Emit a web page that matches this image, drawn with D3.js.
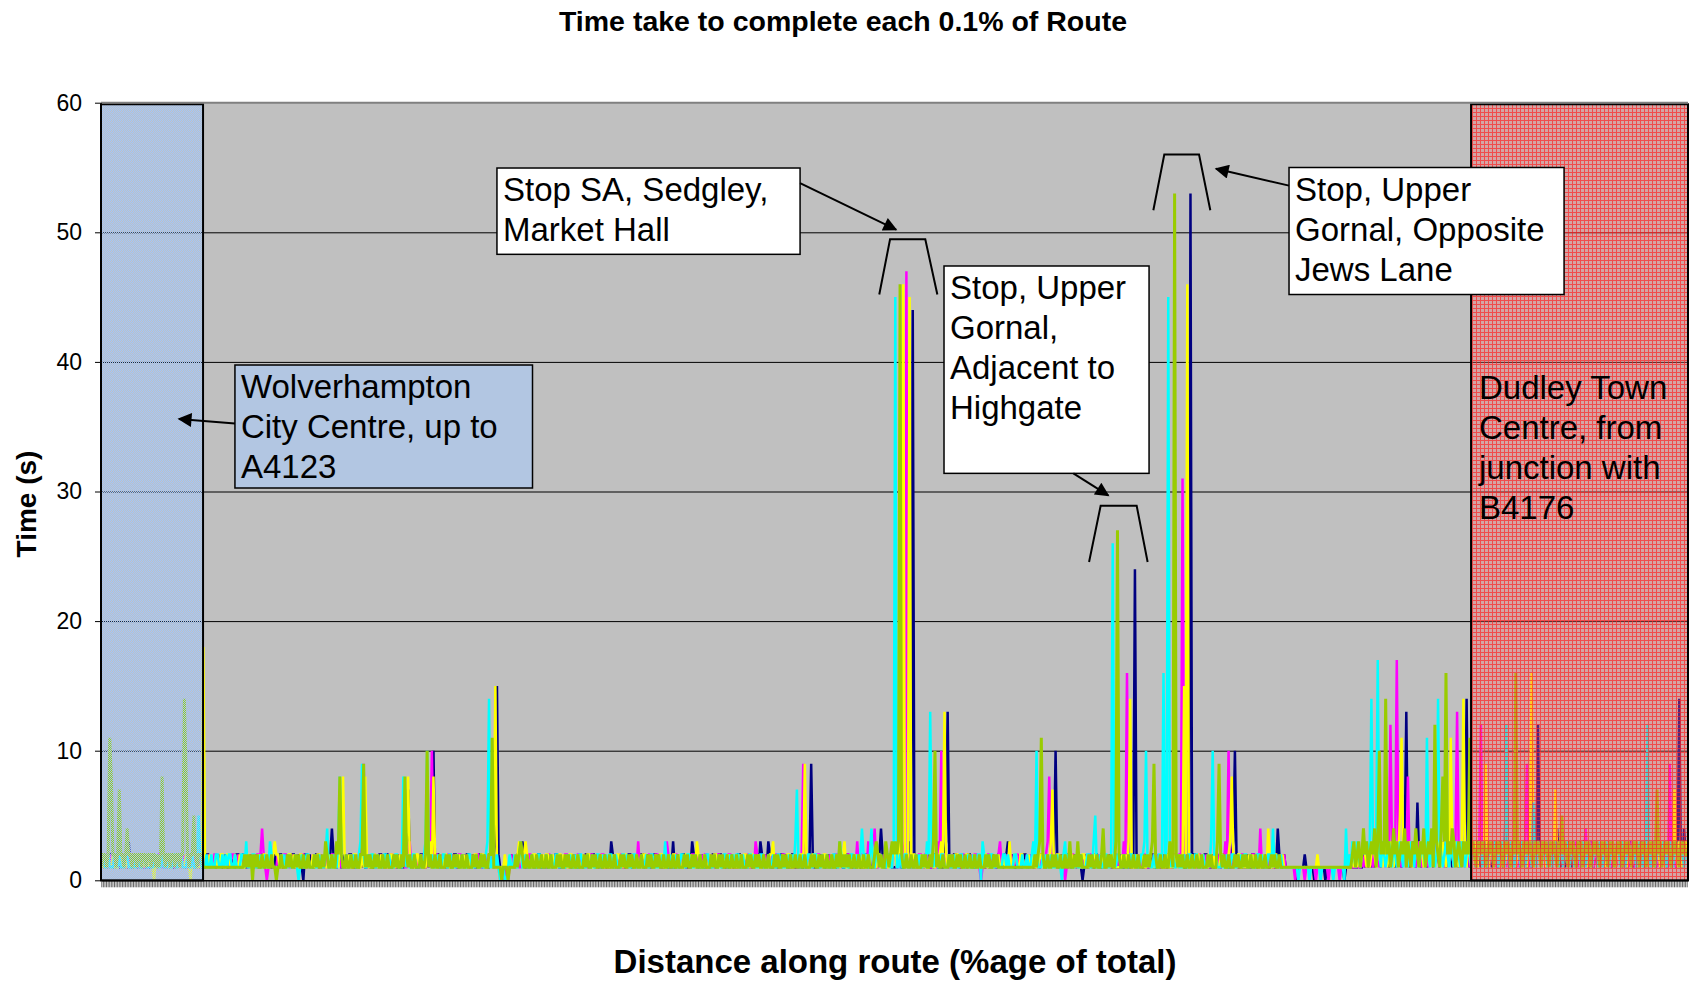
<!DOCTYPE html>
<html>
<head>
<meta charset="utf-8">
<script src="https://cdn.jsdelivr.net/npm/d3@7"></script>
<style>
  body { margin: 0; background: #fff; }
  svg { display: block; }
  text { font-family: "Liberation Sans", Arial, sans-serif; fill: #000; }
</style>
</head>
<body>
<div id="chart"></div>
<script>
// Categories: each 0.1% of the route
var categories = d3.range(1, 1001).map(d => (d / 10).toFixed(1));
var yTicks = [0, 10, 20, 30, 40, 50, 60];

// Seconds taken for each 0.1% of route, one array per journey
var run1 = [
1,1,2,1,1,2,2,1,1,2, 2,1,1,1,2,1,1,3,1,1, 1,2,2,1,1,1,2,1,1,2, 1,1,2,2,1,1,2,1,2,1, 2,2,1,1,2,1,1,1,2,2,
1,2,1,1,1,2,2,1,1,1, 2,1,1,2,1,1,2,2,1,1, 1,1,1,2,1,2,1,1,2,1, 1,1,2,1,1,2,2,1,1,2, 2,1,1,1,2,1,1,2,1,1,
1,2,2,1,1,1,2,1,1,2, 1,1,2,2,1,1,2,1,2,1, 2,2,1,1,2,1,1,0,2,2, 1,2,1,1,1,2,2,1,1,1, 1,2,2,1,2,4,2,1,1,2,
2,1,1,2,1,1,2,2,1,1, 1,1,1,2,1,2,1,1,2,1, 1,1,2,1,1,2,2,1,1,2, 2,1,1,1,2,1,1,2,1,1, 1,2,3,7,2,1,1,2,1,1,
1,2,2,1,1,2,1,2,3,10, 1,2,2,1,1,1,2,1,1,2, 1,1,2,2,1,1,2,1,2,1, 2,2,1,1,2,1,1,1,2,2, 1,1,2,1,1,2,2,2,3,15,
2,1,0,1,0,1,1,1,2,1, 1,1,2,2,2,3,2,1,1,1, 1,2,1,1,1,2,2,1,1,1, 2,1,1,2,1,1,2,2,1,1, 1,1,1,2,1,2,1,1,2,1,
1,1,2,1,1,2,2,1,1,2, 2,1,1,1,2,1,1,2,1,1, 1,3,2,1,1,1,2,1,1,2, 1,1,2,2,1,1,2,1,2,1, 2,2,1,1,2,1,1,1,2,2,
1,2,1,1,1,2,2,1,1,1, 3,1,1,2,1,1,2,2,1,1, 1,1,3,2,1,2,1,1,2,1, 1,1,2,1,1,2,2,1,1,2, 2,1,1,1,2,1,1,2,1,1,
1,2,2,1,1,1,2,1,1,2, 1,1,2,2,1,3,2,1,2,1, 3,2,1,1,2,1,1,1,2,2, 1,2,1,1,1,2,2,1,1,1, 2,1,1,2,1,1,2,9,2,1,
1,1,1,2,1,2,1,1,2,1, 1,1,2,1,1,2,2,1,1,2, 2,1,1,1,2,1,1,2,1,1, 1,2,2,1,1,1,2,1,1,2, 2,4,2,1,1,2,1,2,1,1,
1,1,2,2,1,1,2,1,2,3, 2,44,2,1,1,2,1,1,1,2, 1,2,1,1,1,2,2,1,1,1, 1,2,3,13,2,1,1,2,2,1, 2,1,1,2,1,1,2,2,1,1,
1,1,1,2,1,2,1,1,2,1, 1,1,2,1,1,2,2,1,1,2, 2,3,2,1,2,1,1,2,1,1, 1,2,2,1,1,1,2,1,1,2, 1,1,2,2,1,1,2,1,2,1,
2,10,2,1,1,2,1,1,1,2, 2,1,1,2,1,1,2,1,0,1, 2,1,1,2,1,1,2,2,1,1, 1,1,1,2,1,2,1,1,2,1, 1,1,2,1,1,2,2,1,1,2,
2,24,2,1,1,2,1,1,2,1, 1,2,2,1,1,1,2,1,1,2, 1,1,2,2,1,1,2,1,2,1, 2,2,1,1,2,1,53,1,2,2, 1,2,1,1,1,2,2,1,1,1,
2,1,1,2,1,1,2,2,1,1, 1,1,2,3,10,2,1,1,2,1, 1,1,2,1,1,2,2,1,1,2, 2,1,1,1,2,1,1,2,1,1, 1,4,2,1,1,2,1,1,1,1,
1,1,1,0,1,1,1,1,2,1, 1,1,1,1,0,1,1,1,1,1, 1,0,1,1,1,1,1,1,1,1, 1,1,1,0,1,1,1,1,1,1, 1,1,2,1,1,2,1,2,1,2,
1,2,1,2,3,2,1,2,2,3, 2,1,2,3,2,1,2,3,2,1, 2,3,13,2,1,2,3,2,1,6, 2,1,2,3,2,1,2,3,2,1, 2,3,2,1,2,3,2,1,2,3,
2,1,2,3,2,1,2,3,2,2, 14,2,1,2,3,2,1,3,2,1, 2,3,2,1,3,2,1,2,3,2, 1,3,2,1,2,9,2,1,2,3, 2,1,3,2,1,2,3,2,1,3,
2,1,3,2,2,12,2,1,3,2, 1,2,3,2,1,3,2,4,2,1, 3,2,1,2,3,2,1,3,2,1, 2,3,1,2,3,3,2,1,3,2, 1,2,3,2,1,3,2,1,2,3,
2,1,3,2,1,2,3,2,1,3, 2,1,2,3,2,1,3,2,1,2, 3,2,1,3,2,1,2,3,2,1, 3,2,1,2,3,2,1,3,2,1, 2,3,1,2,14,2,1,4,2,2
];

var run2 = [
1,1,2,2,1,1,2,1,2,1, 2,2,1,1,2,1,1,1,2,2, 1,2,1,1,1,2,2,1,1,1, 2,1,1,2,1,1,2,2,1,1, 1,1,1,2,1,2,1,1,2,1,
1,1,2,1,1,2,2,1,1,2, 2,1,1,1,2,1,1,2,1,1, 1,2,2,1,1,1,2,1,1,2, 1,1,2,2,1,1,2,1,2,1, 2,2,1,1,2,1,1,1,2,2,
2,4,2,1,0,1,1,2,1,1, 1,2,1,1,1,2,2,1,1,1, 2,1,1,2,1,1,2,2,1,1, 1,1,1,2,1,2,1,1,2,1, 1,1,2,1,1,2,2,1,1,2,
2,1,1,1,2,1,1,2,1,1, 1,1,2,1,3,9,2,1,1,2, 1,2,2,1,1,1,2,1,1,2, 1,1,2,2,1,1,2,1,2,1, 2,1,1,2,3,1,1,2,1,2,
1,1,2,1,1,2,1,3,10,2, 2,2,1,1,2,1,1,1,2,2, 1,2,1,1,1,2,2,1,1,1, 2,1,1,2,1,1,2,2,1,1, 1,1,1,2,1,2,1,1,2,1,
1,0,1,0,0,1,0,1,2,1, 1,1,2,1,1,2,2,1,1,2, 2,1,1,1,2,1,1,2,1,1, 1,2,2,1,1,1,2,1,1,2, 1,1,2,2,1,1,2,1,2,1,
2,2,1,1,2,1,1,1,2,2, 1,2,1,1,1,2,2,1,1,1, 2,1,1,2,1,1,2,2,1,1, 1,1,1,2,1,2,1,1,3,1, 1,1,2,1,1,2,2,1,1,2,
2,1,1,1,2,1,3,2,1,1, 1,2,2,1,1,1,2,1,1,2, 1,1,2,2,1,1,2,1,2,1, 2,2,1,1,2,1,1,1,2,2, 1,2,1,1,1,2,2,1,1,1,
2,1,1,2,1,1,2,2,1,1, 1,1,3,2,1,2,1,1,2,1, 1,1,2,1,1,2,2,1,1,2, 2,1,1,1,2,1,1,2,1,1, 1,2,9,2,1,1,2,1,1,2,
1,2,2,1,1,1,2,1,1,2, 1,1,2,2,1,1,2,1,2,1, 2,2,1,1,2,1,3,1,2,2, 1,2,1,3,1,2,2,4,1,1, 2,1,1,2,1,1,2,2,1,3,
2,1,1,2,1,2,3,47,2,1, 1,1,2,1,1,2,2,1,1,2, 2,1,1,1,2,1,1,3,2,10, 1,2,2,1,1,1,2,1,1,2, 1,1,2,2,1,1,2,1,2,1,
2,2,1,1,0,1,1,1,2,2, 1,2,1,1,1,2,3,1,1,1, 2,1,1,2,1,1,2,2,1,1, 1,1,1,2,1,2,1,1,2,1, 1,1,2,1,1,2,3,8,1,2,
2,1,1,1,2,1,1,0,1,1, 1,2,2,1,1,1,2,1,1,2, 1,1,2,2,1,1,2,1,2,1, 2,2,1,1,2,1,1,1,2,2, 1,2,1,1,3,2,16,1,1,1,
2,1,1,2,1,1,2,2,1,1, 1,1,1,2,1,2,1,1,2,1, 1,1,2,1,1,2,2,1,1,2, 2,31,2,1,2,1,1,2,1,1, 1,2,2,1,1,1,2,1,1,2,
1,1,2,2,1,1,2,1,3,2, 10,2,1,1,2,1,1,1,2,2, 1,2,1,1,1,2,2,1,1,1, 4,1,1,2,1,1,2,2,1,1, 1,1,1,2,1,2,1,1,1,1,
1,1,0,1,1,1,1,1,0,1, 1,1,1,1,1,0,1,1,1,1, 1,1,1,0,1,1,1,1,1,1, 0,1,1,1,1,1,1,2,1,1, 1,2,1,1,2,1,2,1,2,1,
2,1,2,3,2,1,2,3,2,1, 2,3,12,2,3,2,17,3,2,1, 3,2,1,8,2,1,3,2,1,2, 3,2,1,2,3,2,1,3,2,1, 2,3,2,1,3,2,1,2,3,2,
5,2,1,3,13,2,1,3,2,1, 2,3,1,2,3,2,1,2,3,12, 2,1,3,2,1,2,3,2,1,3, 2,1,2,3,2,1,3,2,1,2, 3,2,1,3,2,1,2,3,9,2,
1,3,2,1,2,3,2,1,3,2, 1,2,3,2,1,3,2,1,2,3, 2,1,3,2,1,2,3,2,1,3, 2,1,2,3,2,4,2,1,3,2, 1,2,3,2,1,3,2,1,2,3,
2,1,3,2,1,2,3,2,1,2, 3,2,1,2,3,2,1,3,2,1, 2,3,2,1,3,2,1,2,3,2, 1,3,2,1,2,3,2,1,9,2, 3,2,1,2,3,2,1,2,3,2
];

var run3 = [
2,1,1,1,2,1,1,2,1,1, 1,2,2,1,1,1,2,1,1,2, 1,1,2,2,1,1,2,1,2,1, 2,2,1,0,2,1,1,1,2,2, 1,2,1,1,1,2,2,1,1,1,
2,1,1,2,1,1,0,2,1,1, 1,1,1,2,18,2,1,1,2,1, 1,1,2,1,1,2,2,1,1,2, 2,1,1,1,2,1,1,2,1,1, 1,2,2,1,1,1,2,1,1,2,
1,1,2,2,1,1,2,1,2,3, 2,2,1,1,2,1,1,1,2,2, 1,2,1,1,1,2,2,1,1,1, 2,1,1,2,1,1,2,2,1,1, 1,1,1,2,1,2,1,1,2,1,
3,2,8,2,1,1,2,1,1,2, 2,1,1,1,2,1,8,2,1,1, 1,2,2,1,1,1,2,1,1,2, 1,1,2,2,1,1,2,1,2,1, 2,2,3,8,2,1,1,1,2,2,
1,2,1,1,1,2,2,3,1,8, 2,1,1,2,1,1,2,2,1,1, 1,1,1,2,1,2,1,1,2,1, 1,1,2,1,1,2,2,1,1,2, 2,1,1,1,2,1,1,2,15,1,
1,0,1,1,2,1,1,2,1,1, 1,1,2,3,2,1,2,3,2,1, 1,1,2,2,1,1,2,1,2,1, 2,2,1,1,2,1,1,1,2,2, 1,2,1,1,1,2,2,1,1,1,
2,1,1,2,1,1,2,2,1,1, 1,1,1,2,1,2,1,1,2,1, 1,1,2,1,1,2,2,1,1,2, 2,1,1,1,2,1,1,2,1,1, 1,2,2,1,1,1,2,1,1,2,
1,1,2,2,1,1,2,1,2,1, 2,2,1,1,2,1,1,1,2,2, 1,2,1,1,1,3,2,1,1,1, 2,1,1,2,1,1,2,2,1,1, 1,1,1,2,1,2,1,1,2,1,
1,1,2,1,1,2,2,1,1,2, 2,1,1,1,2,1,1,2,1,1, 1,2,2,3,1,1,2,1,1,2, 1,1,2,2,1,1,2,1,2,1, 2,2,1,9,2,1,1,1,2,2,
1,2,1,1,1,2,2,1,1,1, 2,1,1,2,1,1,2,2,3,1, 1,1,1,2,1,2,1,1,2,1, 1,1,2,1,1,3,2,1,1,2, 2,1,1,1,2,1,1,2,1,3,
2,1,2,3,2,46,2,1,2,45, 1,2,2,1,1,1,2,1,1,2, 1,1,2,2,1,1,2,1,2,3, 2,13,2,1,2,1,1,1,2,2, 1,2,1,1,1,2,2,1,1,1,
2,1,1,2,1,1,2,2,1,1, 1,1,1,2,1,2,1,1,2,1, 1,1,3,1,1,2,2,1,1,2, 2,1,1,1,2,1,1,2,1,1, 1,2,2,1,1,1,2,1,3,7,
1,1,2,2,1,1,2,1,2,1, 2,2,1,1,2,1,1,1,2,2, 1,2,1,1,1,2,2,1,1,1, 2,1,1,2,1,1,2,2,1,1, 1,1,1,2,1,2,1,3,14,1,
1,1,2,1,1,2,2,1,1,2, 2,1,1,1,2,1,1,2,1,1, 1,2,2,1,1,1,2,1,1,2, 1,1,15,2,46,1,1,2,1,1, 2,2,1,1,2,1,1,1,2,2,
1,2,1,1,1,2,2,1,1,1, 2,3,8,2,1,1,2,2,1,1, 1,1,1,2,1,2,1,1,2,1, 1,1,2,1,1,4,2,1,1,2, 2,1,1,1,2,1,1,1,1,1,
1,1,1,1,1,1,1,1,1,1, 1,1,1,1,1,1,2,1,1,1, 1,1,1,1,1,1,1,1,1,1, 1,1,1,1,1,1,1,1,2,1, 2,1,2,1,2,3,2,1,2,1,
2,3,2,1,2,3,2,1,3,2, 1,2,3,2,1,2,3,2,5,11, 2,3,2,1,3,2,1,2,3,2, 1,3,2,1,2,3,2,1,3,2, 1,2,3,2,1,3,2,1,2,3,
11,2,1,3,2,1,2,3,14,2, 1,3,2,1,2,3,2,1,3,2, 1,2,9,2,1,3,2,1,2,3, 2,1,3,2,1,2,3,2,1,3, 2,1,2,3,2,1,3,2,1,2,
3,16,2,1,2,3,2,1,3,2, 1,2,3,2,1,2,7,2,1,3, 2,1,2,3,2,1,3,2,1,2, 3,2,1,2,3,2,1,3,2,1, 2,3,2,1,2,3,2,1,3,2,
1,2,3,2,1,3,2,1,2,3, 2,1,3,2,1,2,3,2,1,3, 2,1,2,3,2,1,3,2,1,2, 3,2,1,3,2,1,2,3,2,1, 2,7,2,1,3,2,1,2,3,2
];

var run4 = [
2,2,1,1,2,1,1,1,2,2, 1,2,1,1,1,2,2,1,1,1, 2,1,1,2,1,1,2,2,1,1, 1,1,1,2,1,2,1,1,2,1, 1,1,2,1,1,2,2,1,1,2,
2,1,1,1,2,1,1,2,1,1, 2,5,2,1,1,1,2,1,1,2, 1,1,2,2,1,1,2,1,2,1, 2,2,1,1,2,1,1,1,2,2, 1,3,1,1,1,2,2,1,1,1,
2,1,1,2,1,1,3,2,1,1, 1,1,1,2,1,2,1,1,2,1, 1,1,2,1,0,1,2,1,1,2, 2,1,1,1,2,1,1,2,1,1, 1,2,4,1,1,1,2,1,1,3,
8,2,1,1,2,1,1,2,1,2, 1,1,2,3,9,2,1,1,2,1, 2,2,1,1,2,1,1,1,2,2, 1,2,1,1,1,2,2,1,1,1, 8,2,1,2,1,1,2,2,1,1,
1,1,1,2,3,10,2,1,2,1, 1,1,2,1,1,2,2,1,1,2, 2,1,1,1,2,1,1,2,1,1, 1,2,2,1,1,1,2,1,1,2, 1,1,2,3,14,1,1,2,1,2,
1,0,0,1,0,0,1,2,1,1, 2,1,1,2,3,1,1,2,1,1, 1,2,1,1,1,2,2,1,1,1, 2,1,1,2,1,1,2,2,1,1, 1,1,1,2,1,2,1,1,2,1,
1,2,2,1,1,1,2,1,1,2, 1,1,2,2,1,1,2,1,2,1, 2,2,1,1,2,1,1,1,2,2, 1,2,1,1,1,2,2,1,1,1, 2,1,1,2,1,1,2,2,1,1,
1,1,1,2,1,3,1,1,2,1, 1,1,2,1,1,2,2,1,1,2, 2,1,1,1,2,1,1,2,1,1, 1,2,2,1,1,1,2,1,1,2, 1,1,2,2,1,1,2,1,2,1,
2,2,1,1,2,1,1,1,2,2, 1,2,1,1,1,2,2,1,1,1, 2,1,1,2,1,1,2,2,1,1, 1,1,1,2,1,2,1,3,7,1, 1,1,2,1,1,2,2,1,1,2,
2,1,1,1,2,1,1,2,1,1, 1,2,2,1,1,3,2,1,1,2, 1,1,2,2,1,1,2,1,2,4, 2,2,1,1,2,4,1,1,2,2, 1,2,1,1,1,2,2,1,1,3,
45,1,1,2,1,1,2,2,1,1, 1,1,1,2,1,2,1,1,2,1, 3,2,13,2,1,2,2,1,1,2, 2,1,1,1,2,1,1,2,1,1, 1,2,2,1,1,1,2,1,1,2,
1,1,2,2,0,3,2,1,2,1, 2,2,1,1,2,1,1,1,2,2, 1,2,1,1,1,2,2,1,1,1, 2,1,1,2,1,1,2,3,1,10, 1,1,1,2,1,2,1,1,2,1,
1,1,2,1,1,0,2,3,1,2, 2,1,1,1,2,1,1,2,1,1, 1,2,2,1,1,3,5,1,1,2, 1,1,2,2,1,1,2,26,2,1, 2,2,1,1,2,1,1,1,2,2,
1,2,1,1,1,2,2,3,10,1, 2,1,1,2,1,1,2,2,1,16, 1,3,45,2,1,2,1,1,2,1, 1,1,2,1,1,2,2,1,1,2, 2,1,1,1,2,1,1,2,1,3,
10,2,2,1,1,1,2,1,1,2, 1,1,2,2,1,1,2,1,2,1, 2,2,1,1,2,1,1,1,2,2, 1,2,1,1,1,2,2,1,4,1, 2,1,1,2,1,1,1,1,1,1,
1,1,1,1,0,1,1,1,1,1, 1,0,1,1,1,1,1,1,0,1, 1,1,1,1,1,1,0,1,1,1, 1,1,1,0,4,1,2,1,3,2, 1,3,2,1,2,3,2,3,2,3,
14,3,2,3,17,2,1,3,2,1, 2,3,2,1,3,2,1,2,3,2, 1,3,2,1,2,3,2,1,3,2, 1,2,3,2,1,11,2,1,3,2, 1,2,14,3,2,1,2,3,2,1,
3,2,1,2,3,2,1,3,2,1, 2,3,2,1,3,2,1,2,3,2, 1,3,2,1,2,3,2,1,3,2, 1,2,3,2,1,12,2,1,3,2, 1,2,3,2,1,3,2,1,2,3,
2,1,6,2,1,3,2,1,2,3, 2,1,3,2,1,2,3,2,1,3, 2,1,2,3,2,1,3,2,1,2, 3,2,1,3,2,1,2,3,2,1, 2,3,2,1,3,2,1,2,3,2,
1,3,2,1,2,3,2,1,3,2, 1,2,3,2,1,3,2,1,2,3, 2,1,3,2,12,2,1,3,2,1, 2,3,2,1,3,2,1,2,3,2, 1,2,3,2,1,3,2,1,2,2
];

var run5 = [
1,2,2,1,2,11,8,2,2,1, 2,7,2,2,1,2,4,2,2,1, 2,2,1,2,2,1,2,2,1,2, 2,1,2,2,1,2,1,2,8,2, 1,2,2,1,2,2,1,2,2,1,
2,2,14,9,2,1,2,2,5,2, 1,2,2,2,1,1,1,1,1,1, 1,1,1,1,1,1,1,1,1,1, 1,1,1,1,1,1,1,1,1,1, 2,1,2,1,2,0,2,1,2,1,
1,2,1,1,2,1,1,2,1,1, 0,1,1,2,1,1,1,2,1,2, 1,1,2,1,2,1,1,2,1,1, 2,1,1,1,2,1,2,1,1,2, 1,3,2,1,1,2,1,1,3,2,
8,2,1,1,2,1,1,2,1,1, 2,1,1,2,2,9,1,2,1,2, 1,1,2,1,2,1,1,2,1,1, 2,1,1,1,2,1,2,1,1,2, 1,8,2,1,2,1,1,2,1,1,
1,2,1,1,2,10,1,2,1,1, 2,1,1,2,1,1,1,2,1,2, 1,1,2,1,2,1,1,2,1,1, 2,1,1,1,2,1,2,1,1,2, 1,2,1,1,2,2,11,1,1,1,
1,1,0,1,1,1,0,1,1,1, 1,2,1,2,3,2,1,1,2,1, 1,2,1,1,2,1,1,2,1,1, 2,1,1,2,1,1,1,2,1,2, 1,1,2,1,2,1,1,2,1,1,
2,1,1,1,2,1,2,1,1,2, 1,2,1,1,2,1,1,2,1,1, 2,1,1,2,1,1,1,2,1,2, 1,1,2,1,2,1,1,2,1,1, 2,1,1,1,2,1,2,1,1,2,
1,2,1,1,2,1,1,2,1,1, 2,1,1,2,1,1,1,2,1,2, 1,1,2,1,2,1,1,2,1,1, 2,1,1,1,2,1,2,1,1,2, 1,2,1,1,2,1,1,2,1,1,
2,1,1,2,1,1,1,2,1,2, 1,1,2,1,2,1,1,2,1,1, 2,1,1,1,2,1,2,1,1,2, 1,2,1,1,2,1,1,2,1,1, 2,1,1,2,1,1,1,2,1,2,
1,1,2,1,2,1,1,2,1,1, 2,1,1,2,1,3,1,2,1,2, 1,2,1,1,2,1,1,2,1,1, 2,1,1,2,1,1,1,2,3,2, 1,2,1,1,3,2,1,2,3,2,
3,2,3,46,2,1,1,2,1,1, 2,1,1,2,1,1,1,2,1,2, 1,1,2,1,3,10,1,2,1,1, 2,1,1,1,2,1,2,1,1,2, 1,2,1,1,2,1,1,2,1,1,
2,1,1,2,1,1,1,2,1,2, 1,1,2,1,2,1,1,1,1,1, 1,1,1,1,1,1,1,1,1,1, 1,1,1,1,1,1,1,1,2,1, 2,3,11,2,1,1,2,1,1,2,
1,2,1,1,2,1,1,2,1,1, 3,1,1,2,1,3,1,2,1,1, 1,1,2,1,2,1,1,2,1,1, 2,4,1,1,2,1,2,1,1,3, 27,2,1,1,2,1,1,2,1,1,
2,1,1,2,1,1,1,2,1,2, 1,2,3,9,2,1,1,2,1,1, 2,1,1,3,2,1,53,2,1,2, 1,2,1,1,2,1,1,2,1,1, 2,1,1,2,1,1,1,2,1,2,
1,1,1,3,9,2,1,2,1,1, 2,1,1,1,2,1,2,1,1,2, 1,2,1,1,2,1,1,2,1,1, 2,1,1,2,1,1,1,2,1,2, 1,1,2,1,1,1,1,1,1,1,
1,1,1,1,1,1,1,1,1,1, 1,1,1,1,1,1,1,1,1,1, 1,1,1,1,1,1,1,1,1,1, 1,1,1,1,1,1,1,1,2,3, 1,2,3,1,2,4,2,3,1,2,
3,2,4,1,3,10,2,3,2,14, 2,3,1,2,4,2,3,1,2,3, 2,4,1,3,2,1,3,2,4,2, 1,3,2,4,1,2,3,2,4,1, 12,3,2,1,4,8,3,16,2,3,
2,4,3,1,2,3,2,1,3,2, 3,2,11,2,3,2,1,3,2,3, 2,3,1,2,3,2,3,1,2,3, 2,3,2,1,3,2,3,2,1,3, 2,16,2,3,2,1,3,2,3,2,
3,2,1,3,2,3,2,1,3,2, 3,2,1,3,2,3,2,1,3,2, 5,2,3,2,1,3,2,3,2,1, 3,2,3,1,2,3,2,3,1,2, 3,2,3,2,1,3,2,3,2,1,
3,2,3,1,2,3,2,3,1,2, 3,2,3,2,1,3,2,3,2,1, 3,2,3,1,2,3,2,3,1,2, 7,2,3,1,2,3,2,3,2,1, 3,2,3,2,1,3,2,3,2,2
];

// Drawing order follows the spreadsheet series order
var series = [
  {name: "Run 1", color: "#000080", width: 2.5, values: run1},
  {name: "Run 2", color: "#ff00ff", width: 2.5, values: run2},
  {name: "Run 3", color: "#ffff00", width: 2.5, values: run3},
  {name: "Run 4", color: "#00ffff", width: 2.5, values: run4},
  {name: "Run 5", color: "#99cc00", width: 3, values: run5}
];

// Shaded sections of the route, in % of route
var zones = [
  {name: "Wolverhampton", from: 0, to: 6.43, fill: "url(#bluePat)"},
  {name: "Dudley", from: 86.33, to: 100, fill: "url(#redPat)"}
];

// Set the dimensions of the diagram
var width = 1690, height = 982;
var plot = {left: 101, top: 102.7, right: 1688, bottom: 880.3};

var svg = d3.select("#chart").append("svg")
    .attr("width", width)
    .attr("height", height);

var x = d3.scaleBand().domain(categories).range([plot.left, plot.right]);
var xPct = d3.scaleLinear().domain([0, 100]).range([plot.left, plot.right]);
var y = d3.scaleLinear().domain([0, 60]).range([plot.bottom, plot.top]);

// Patterns for the shaded zones
var defs = svg.append("defs");
var bp = defs.append("pattern").attr("id", "bluePat")
    .attr("patternUnits", "userSpaceOnUse").attr("width", 2).attr("height", 2);
bp.append("rect").attr("width", 1).attr("height", 1).attr("fill", "#a2c6fa");
bp.append("rect").attr("x", 1).attr("y", 1).attr("width", 1).attr("height", 1).attr("fill", "#a2c6fa");
bp.append("rect").attr("x", 1).attr("width", 1).attr("height", 1).attr("fill", "rgba(176,196,222,0.12)");
bp.append("rect").attr("y", 1).attr("width", 1).attr("height", 1).attr("fill", "rgba(176,196,222,0.12)");

var rp = defs.append("pattern").attr("id", "redPat")
    .attr("patternUnits", "userSpaceOnUse").attr("width", 4).attr("height", 4);
rp.append("rect").attr("width", 4).attr("height", 4).attr("fill", "rgba(255,110,110,0.32)");
rp.append("rect").attr("width", 4).attr("height", 1).attr("fill", "rgba(255,30,30,0.66)");
rp.append("rect").attr("y", 1).attr("width", 1).attr("height", 3).attr("fill", "rgba(255,30,30,0.66)");

defs.append("clipPath").attr("id", "plotClip")
  .append("rect")
    .attr("x", plot.left).attr("y", plot.top)
    .attr("width", plot.right - plot.left).attr("height", plot.bottom - plot.top);

defs.append("marker").attr("id", "arrow")
    .attr("viewBox", "0 0 10 10").attr("refX", 9).attr("refY", 5)
    .attr("markerWidth", 9).attr("markerHeight", 7)
    .attr("markerUnits", "strokeWidth").attr("orient", "auto")
  .append("path").attr("d", "M0,0L10,5L0,10z").attr("fill", "#000");

// Plot background
svg.append("rect")
    .attr("x", plot.left).attr("y", plot.top)
    .attr("width", plot.right - plot.left).attr("height", plot.bottom - plot.top)
    .attr("fill", "#c0c0c0");

// Gridlines
svg.append("g")
    .attr("transform", "translate(" + plot.left + ",0)")
    .call(d3.axisLeft(y).tickValues([10, 20, 30, 40, 50]).tickSize(-(plot.right - plot.left)).tickFormat(""))
    .call(g => g.select(".domain").remove())
    .selectAll("line").attr("stroke", "#000").attr("stroke-width", 1);

// Lines
var line = d3.line()
    .x((d, i) => x(categories[i]) + x.bandwidth() / 2)
    .y(d => y(d));

svg.append("g").attr("clip-path", "url(#plotClip)")
  .selectAll("path")
    .data(series)
  .enter().append("path")
    .attr("d", d => line(d.values))
    .attr("fill", "none")
    .attr("stroke", d => d.color)
    .attr("stroke-width", d => d.width)
    .attr("stroke-linejoin", "miter");

// Shaded zones sit on top of the lines
svg.append("g").selectAll("rect")
    .data(zones)
  .enter().append("rect")
    .attr("x", d => xPct(d.from))
    .attr("y", y(59.88))
    .attr("width", d => xPct(d.to) - xPct(d.from))
    .attr("height", y(0) - y(59.88))
    .attr("fill", d => d.fill)
    .attr("stroke", "#000")
    .attr("stroke-width", 2);

// Plot top border
svg.append("line")
    .attr("x1", plot.left).attr("x2", plot.right)
    .attr("y1", plot.top).attr("y2", plot.top)
    .attr("stroke", "#808080").attr("stroke-width", 2);

// Axes
svg.append("g")
    .attr("transform", "translate(0," + plot.bottom + ")")
    .call(d3.axisBottom(x).tickSize(7).tickFormat("").tickSizeOuter(0))
    .call(g => g.selectAll("line").attr("stroke", "#000").attr("stroke-width", 0.6))
    .call(g => g.select(".domain").attr("stroke", "#000").attr("stroke-width", 1.5));

svg.append("g")
    .attr("transform", "translate(" + plot.left + ",0)")
    .call(d3.axisLeft(y).tickValues(yTicks).tickSize(6).tickPadding(13).tickSizeOuter(0))
    .call(g => g.selectAll("line").attr("stroke", "#000"))
    .call(g => g.select(".domain").attr("stroke", "#000"))
    .call(g => g.selectAll("text").attr("font-size", 23).attr("font-family", "Liberation Sans, Arial, sans-serif").attr("fill", "#000"));

// Annotations, positioned in % of route and seconds
var notes = [
  {lines: ["Stop SA, Sedgley,", "Market Hall"], box: [24.95, 54.96, 44.05, 48.3], fill: "#fff",
   arrow: [[44.05, 53.8], [50.1, 50.2]],
   bracket: [[49.04, 45.2], [49.72, 49.46], [51.94, 49.46], [52.7, 45.2]]},
  {lines: ["Stop, Upper", "Gornal,", "Adjacent to", "Highgate"], box: [53.12, 47.4, 66.04, 31.4], fill: "#fff",
   arrow: [[61.27, 31.4], [63.47, 29.7]],
   bracket: [[62.26, 24.56], [62.99, 28.9], [65.26, 28.9], [65.95, 24.56]]},
  {lines: ["Stop, Upper", "Gornal, Opposite", "Jews Lane"], box: [74.86, 55.0, 92.19, 45.2], fill: "#fff",
   arrow: [[74.86, 53.6], [70.26, 54.9]],
   bracket: [[66.31, 51.7], [67.0, 56.0], [69.19, 56.0], [69.9, 51.7]]},
  {lines: ["Wolverhampton", "City Centre, up to", "A4123"], box: [8.44, 39.76, 27.19, 30.27], fill: "#b2c6e2",
   arrow: [[8.44, 35.24], [4.91, 35.6]], bracket: null},
  {lines: ["Dudley Town", "Centre, from", "junction with", "B4176"], box: [86.45, 39.72, 100, 28], fill: null,
   arrow: null, bracket: null}
];

var ann = svg.append("g");
notes.forEach(function(n) {
    var bx = xPct(n.box[0]), by = y(n.box[1]);
    if (n.fill) {
        ann.append("rect")
            .attr("x", bx).attr("y", by)
            .attr("width", xPct(n.box[2]) - bx).attr("height", y(n.box[3]) - by)
            .attr("fill", n.fill).attr("stroke", "#000").attr("stroke-width", 1.5);
    }
    ann.append("text")
        .attr("x", bx + 6)
        .attr("font-size", 33)
      .selectAll("tspan")
        .data(n.lines)
      .enter().append("tspan")
        .attr("x", bx + 6)
        .attr("y", (d, i) => by + 33 + i * 40)
        .text(d => d);
    if (n.arrow) {
        ann.append("line")
            .attr("x1", xPct(n.arrow[0][0])).attr("y1", y(n.arrow[0][1]))
            .attr("x2", xPct(n.arrow[1][0])).attr("y2", y(n.arrow[1][1]))
            .attr("stroke", "#000").attr("stroke-width", 2)
            .attr("marker-end", "url(#arrow)");
    }
    if (n.bracket) {
        ann.append("path")
            .attr("d", d3.line().x(p => xPct(p[0])).y(p => y(p[1]))(n.bracket))
            .attr("fill", "none").attr("stroke", "#000").attr("stroke-width", 2);
    }
});

// Titles
svg.append("text")
    .attr("x", 843).attr("y", 31)
    .attr("text-anchor", "middle")
    .attr("font-size", 28.5).attr("font-weight", "bold")
    .text("Time take to complete each 0.1% of Route");

svg.append("text")
    .attr("x", 895).attr("y", 973)
    .attr("text-anchor", "middle")
    .attr("font-size", 33).attr("font-weight", "bold")
    .text("Distance along route (%age of total)");

svg.append("text")
    .attr("transform", "translate(36,504) rotate(-90)")
    .attr("text-anchor", "middle")
    .attr("font-size", 28).attr("font-weight", "bold")
    .text("Time (s)");
</script>
</body>
</html>
